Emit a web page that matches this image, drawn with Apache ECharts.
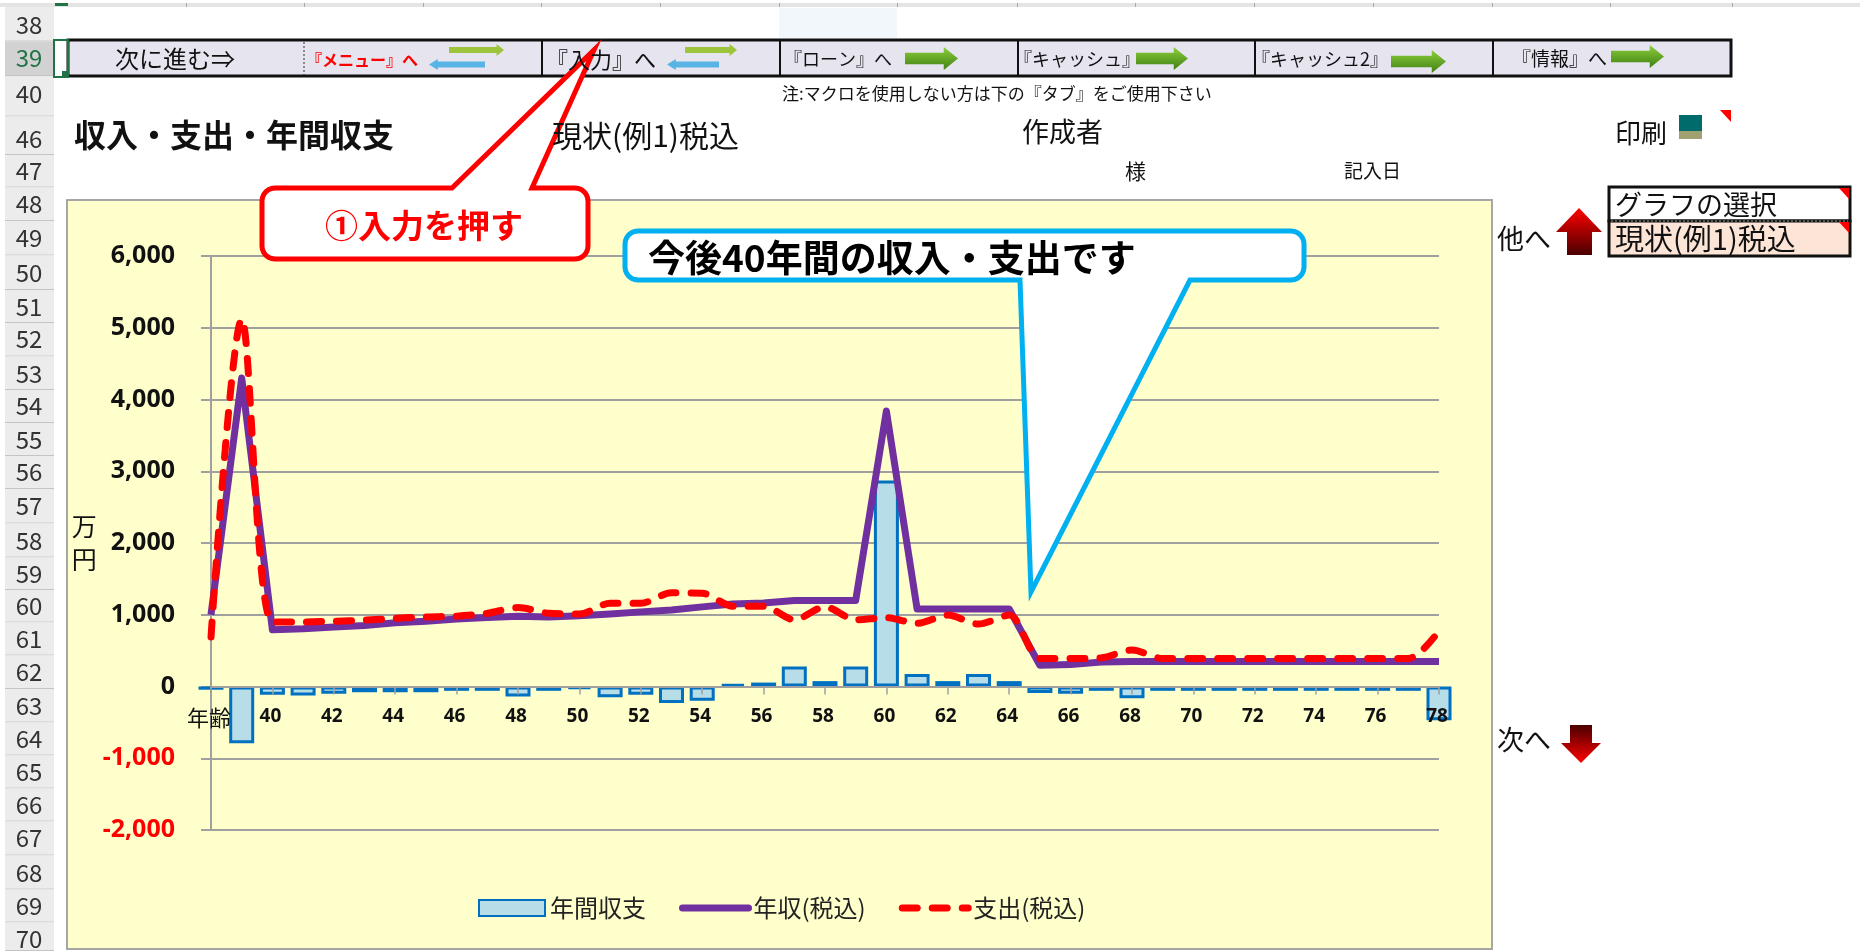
<!DOCTYPE html>
<html>
<head>
<meta charset="utf-8">
<title>収入・支出・年間収支</title>
<script src="https://cdn.jsdelivr.net/npm/echarts@6/dist/echarts.min.js"></script>
<style>
  html, body { margin: 0; padding: 0; background: #fff; }
  #chart { width: 1860px; height: 951px; }
</style>
</head>
<body>
<div id="chart"></div>
<script>
// 年齢 (先頭は軸の見出し)
const ages = ['年齢', '39', '40', '41', '42', '43', '44', '45', '46', '47', '48', '49', '50', '51',
  '52', '53', '54', '55', '56', '57', '58', '59', '60', '61', '62', '63', '64', '65', '66', '67',
  '68', '69', '70', '71', '72', '73', '74', '75', '76', '77', '78']
const balance = [-45, -790, -115, -125, -100, -80, -80, -80, -60, -60, -140, -60, -37, -150,
  -115, -230, -200, 37, 55, 280, 75, 280, 2870, 175, 75, 175, 75, -90, -100, -60,
  -165, -60, -60, -60, -60, -60, -60, -60, -60, -60, -470]
const income = [1000, 4300, 790, 805, 830, 850, 890, 910, 940, 960, 980, 970, 985, 1010,
  1040, 1065, 1110, 1150, 1165, 1200, 1200, 1200, 3840, 1080, 1080, 1080, 1080, 295, 305, 340,
  350, 350, 350, 350, 350, 350, 350, 350, 350, 350, 350]
const expense = [690, 5120, 900, 900, 910, 925, 950, 970, 980, 1020, 1100, 1020, 1010, 1160,
  1160, 1305, 1300, 1120, 1120, 930, 1110, 930, 960, 880, 995, 870, 995, 390, 390, 400,
  507, 390, 390, 390, 390, 390, 390, 390, 390, 390, 775]

const rowNames = ['38', '39', '40', '46', '47', '48', '49', '50', '51', '52', '53', '54', '55', '56',
  '57', '58', '59', '60', '61', '62', '63', '64', '65', '66', '67', '68', '69', '70']
const rowCenters = [25, 58, 94, 139, 171, 204, 238, 273, 307, 339, 374, 406, 440, 472,
  506, 541, 574, 606, 639, 672, 706, 739, 772, 805, 838, 873, 906, 939]
const columnEdges = [186, 304, 423, 541, 660, 779, 897, 1017, 1135, 1254, 1373, 1492, 1610, 1732]

const JP = '"Noto Sans CJK JP", "Noto Sans", sans-serif'
const NUM = '"Noto Sans", "Noto Sans CJK JP", sans-serif'

const txt = (text, x, y, size, opt = {}) => ({
  type: 'text',
  z: opt.z || 50,
  x, y,
  style: {
    text,
    fill: opt.color || '#111',
    font: `${opt.bold ? 'bold ' : ''}${size}px ${JP}`,
    textAlign: opt.align || 'left',
    textVerticalAlign: 'middle'
  }
})

const rect = (x, y, w, h, fill, opt = {}) => ({
  type: 'rect',
  z: opt.z || 10,
  shape: { x, y, width: w, height: h, r: opt.r || 0 },
  style: { fill, stroke: opt.stroke || null, lineWidth: opt.lineWidth || 0, lineDash: opt.lineDash || null }
})

const poly = (points, fill, opt = {}) => ({
  type: 'polygon',
  z: opt.z || 20,
  shape: { points },
  style: { fill, stroke: opt.stroke || null, lineWidth: opt.lineWidth || 0 }
})

const vGrad = (c1, c2) => new echarts.graphic.LinearGradient(0, 0, 0, 1, [
  { offset: 0, color: c1 },
  { offset: 1, color: c2 }
])

// ナビの矢印
const rightArrow = (x0, x1, y0, y1, fill) => {
  const neck = x1 - (y1 - y0) * 0.62
  const a = y0 + (y1 - y0) * 0.25
  const b = y0 + (y1 - y0) * 0.75
  return poly([[x0, a], [neck, a], [neck, y0], [x1, (y0 + y1) / 2], [neck, y1], [neck, b], [x0, b]], fill, { z: 30 })
}
const leftArrow = (x0, x1, y0, y1, fill) => {
  const neck = x0 + (y1 - y0) * 0.8
  const a = y0 + (y1 - y0) * 0.22
  const b = y0 + (y1 - y0) * 0.78
  return poly([[x1, a], [neck, a], [neck, y0], [x0, (y0 + y1) / 2], [neck, y1], [neck, b], [x1, b]], fill, { z: 30 })
}

// 角丸の四分円を点列にする
const corner = (cx, cy, r, startDeg) => {
  const pts = []
  for (let d = 0; d <= 90; d += 15) {
    const a = (startDeg + d) * Math.PI / 180
    pts.push([cx + r * Math.cos(a), cy + r * Math.sin(a)])
  }
  return pts
}

// 吹き出し (角丸の枠 + 三角)
const callout = (x, y, w, h, tip, base0, base1, color) => {
  const r = 13
  const R = x + w
  const B = y + h
  const pts = [
    ...corner(x + r, y + r, r, 180),
    ...(tip[1] < y ? [[base0, y], tip, [base1, y]] : []),
    ...corner(R - r, y + r, r, 270),
    ...corner(R - r, B - r, r, 0),
    ...(tip[1] > B ? [[base1, B], tip, [base0, B]] : []),
    ...corner(x + r, B - r, r, 90)
  ]
  return poly(pts, '#fff', { z: 40, stroke: color, lineWidth: 5 })
}

const graphics = []

// 列見出し
graphics.push(rect(0, 3, 1860, 4, '#e4e4e4'))
columnEdges.forEach(x => graphics.push(rect(x, 3, 1, 4, '#a8a8a8')))
graphics.push(rect(55, 3, 13, 3, '#217346'))
graphics.push(rect(779, 8, 118, 30, '#f1f7fa'))

// 行見出し
rowNames.forEach((name, i) => {
  const top = i === 0 ? 7 : (rowCenters[i - 1] + rowCenters[i]) / 2
  const bottom = i === rowNames.length - 1 ? 951 : (rowCenters[i] + rowCenters[i + 1]) / 2
  const on = name === '39'
  graphics.push(rect(5, top, 49, bottom - top - 1, on ? '#d2d2d2' : '#ececec'))
  graphics.push(rect(5, bottom - 1, 49, 1, '#c4c4c4'))
  graphics.push(txt(name, 29, rowCenters[i], 24, { align: 'center', color: on ? '#217346' : '#333' }))
})

// ナビバー
graphics.push(rect(68, 40, 1663, 36, '#e6e4ef', { stroke: '#111', lineWidth: 3 }))
;[541, 779, 1017, 1254, 1492].forEach(x => graphics.push(rect(x, 40, 2, 36, '#111', { z: 11 })))
graphics.push({
  type: 'line', z: 11,
  shape: { x1: 304, y1: 42, x2: 304, y2: 75 },
  style: { stroke: '#333', lineWidth: 1, lineDash: [2, 2] }
})
graphics.push(rect(54, 40, 14, 37, 'transparent', { stroke: '#217346', lineWidth: 2, z: 12 }))
graphics.push(rect(62, 71, 7, 7, '#217346', { z: 13 }))

graphics.push(txt('次に進む⇒', 115, 59, 24))
graphics.push(txt('『メニュー』へ', 306, 60, 16, { color: '#ff0000', bold: true }))
graphics.push(txt('『入力』へ', 546, 60, 22))
graphics.push(txt('『ローン』へ', 784, 59, 18))
graphics.push(txt('『キャッシュ』', 1014, 59, 18))
graphics.push(txt('『キャッシュ2』', 1252, 59, 18))
graphics.push(txt('『情報』へ', 1512, 59, 19))

const green = vGrad('#8ccf3c', '#3f7f12')
graphics.push(rightArrow(449, 504, 44, 56, '#9dc53c'))
graphics.push(leftArrow(429, 485, 59, 70, '#58b4e4'))
graphics.push(rightArrow(685, 737, 44, 56, '#9dc53c'))
graphics.push(leftArrow(667, 719, 59, 70, '#58b4e4'))
graphics.push(rightArrow(905, 958, 47, 70, green))
graphics.push(rightArrow(1136, 1188, 47, 70, green))
graphics.push(rightArrow(1391, 1446, 50, 73, green))
graphics.push(rightArrow(1611, 1664, 45, 68, green))

graphics.push(txt('注:マクロを使用しない方は下の『タブ』をご使用下さい', 782, 94, 17))

// 見出し行
graphics.push(txt('収入・支出・年間収支', 74, 135, 32, { bold: true }))
graphics.push(txt('現状(例1)税込', 552, 136, 30))
graphics.push(txt('作成者', 1022, 132, 27))
graphics.push(txt('様', 1125, 171, 21))
graphics.push(txt('記入日', 1344, 171, 19))
graphics.push(txt('印刷', 1615, 133, 26))
graphics.push(rect(1679, 115, 23, 16, '#006b6b'))
graphics.push(rect(1679, 131, 23, 8, '#a0a070'))
graphics.push(poly([[1720, 110], [1731, 110], [1731, 122]], '#ff0000'))

// 右側のグラフ選択
graphics.push(rect(1609, 187, 241, 34, '#fff', { stroke: '#111', lineWidth: 3 }))
graphics.push(rect(1609, 221, 241, 35, '#fce4d6', { stroke: '#111', lineWidth: 3 }))
graphics.push({
  type: 'line', z: 12,
  shape: { x1: 1611, y1: 221, x2: 1848, y2: 221 },
  style: { stroke: '#555', lineWidth: 2, lineDash: [2, 2] }
})
graphics.push(txt('グラフの選択', 1615, 205, 27))
graphics.push(txt('現状(例1)税込', 1615, 239, 29))
graphics.push(poly([[1839, 188], [1849, 188], [1849, 199]], '#ff0000'))
graphics.push(poly([[1839, 222], [1849, 222], [1849, 233]], '#ff0000'))

graphics.push(txt('他へ', 1497, 239, 27))
graphics.push(poly([[1579, 208], [1602, 232], [1592, 232], [1592, 255], [1567, 255], [1567, 232], [1556, 232]],
  vGrad('#ff0000', '#4a0000')))
graphics.push(txt('次へ', 1497, 740, 27))
graphics.push(poly([[1570, 725], [1592, 725], [1592, 743], [1601, 743], [1581, 763], [1561, 743], [1570, 743]],
  vGrad('#4a0000', '#ff0000')))

// グラフ背景
graphics.push(rect(67, 200, 1425, 749, '#ffffcc', { stroke: '#a6a6a6', lineWidth: 2, z: 1 }))

// 吹き出し
graphics.push(callout(262, 188, 326, 71, [594, 50], 452, 532, '#ff0000'))
graphics.push(txt('①入力を押す', 424, 225, 33, { color: '#ff0000', bold: true, align: 'center', z: 60 }))
graphics.push(callout(625, 231, 679, 49, [1031, 592], 1020, 1190, '#00b0f0'))
graphics.push(txt('今後40年間の収入・支出です', 648, 258, 37, { bold: true, color: '#000', z: 60 }))

const chart = echarts.init(document.getElementById('chart'))
chart.setOption({
  animation: false,
  backgroundColor: '#fff',
  textStyle: { fontFamily: JP },
  graphic: { elements: graphics },
  legend: {
    left: 478,
    top: 896,
    padding: 0,
    itemWidth: 66,
    itemHeight: 16,
    itemGap: 33,
    textStyle: { fontFamily: JP, fontSize: 24, color: '#222' },
    data: [
      { name: '年間収支', icon: 'rect' },
      { name: '年収(税込)', itemStyle: { opacity: 0 }, lineStyle: { width: 7, cap: 'round' } },
      { name: '支出(税込)', itemStyle: { opacity: 0 }, lineStyle: { width: 7, cap: 'round' } }
    ]
  },
  grid: { left: 211, top: 256, width: 1228, height: 574 },
  xAxis: {
    type: 'category',
    boundaryGap: false,
    data: ages,
    z: 4,
    axisLine: { onZero: true, lineStyle: { color: '#a0a0a0', width: 2 } },
    axisTick: { interval: 1, length: 8, lineStyle: { color: '#a0a0a0', width: 1.5 } },
    axisLabel: {
      interval: 1,
      margin: -123,
      padding: [0, 4, 0, 0],
      color: '#111',
      fontFamily: NUM,
      fontWeight: 'bold',
      fontSize: 19,
      hideOverlap: false,
      formatter: v => (v === '年齢' ? '{a|年齢}' : v),
      rich: { a: { fontFamily: JP, fontSize: 22, fontWeight: 'normal', color: '#111', padding: [0, 0, 6, 0] } }
    }
  },
  yAxis: {
    type: 'value',
    min: -2000,
    max: 6000,
    interval: 1000,
    z: 2,
    name: '万\n円',
    nameLocation: 'middle',
    nameRotate: 0,
    nameGap: 110,
    nameTextStyle: { fontFamily: JP, fontSize: 25, color: '#111', lineHeight: 33 },
    axisLine: { show: true, lineStyle: { color: '#a0a0a0', width: 2 } },
    axisTick: { show: true, length: 10, lineStyle: { color: '#a0a0a0', width: 2 } },
    splitLine: { lineStyle: { color: '#a0a0a0', width: 2 } },
    axisLabel: {
      margin: 36,
      fontFamily: NUM,
      fontWeight: 'bold',
      fontSize: 25,
      color: v => (v < 0 ? '#ff0000' : '#111'),
      formatter: v => v.toLocaleString('en-US')
    }
  },
  series: [
    {
      name: '年間収支',
      type: 'bar',
      data: balance,
      barWidth: 25,
      z: 3,
      itemStyle: { color: '#b7dde8', borderColor: '#0070c0', borderWidth: 3 }
    },
    {
      name: '年収(税込)',
      type: 'line',
      data: income,
      symbol: 'none',
      z: 5,
      lineStyle: { color: '#7030a0', width: 7, join: 'round' },
      itemStyle: { color: '#7030a0' }
    },
    {
      name: '支出(税込)',
      type: 'line',
      data: expense,
      symbol: 'none',
      smooth: 0.3,
      z: 6,
      lineStyle: { color: '#ff0000', width: 7, type: [15, 15], cap: 'round' },
      itemStyle: { color: '#ff0000' }
    }
  ]
})
</script>
</body>
</html>
